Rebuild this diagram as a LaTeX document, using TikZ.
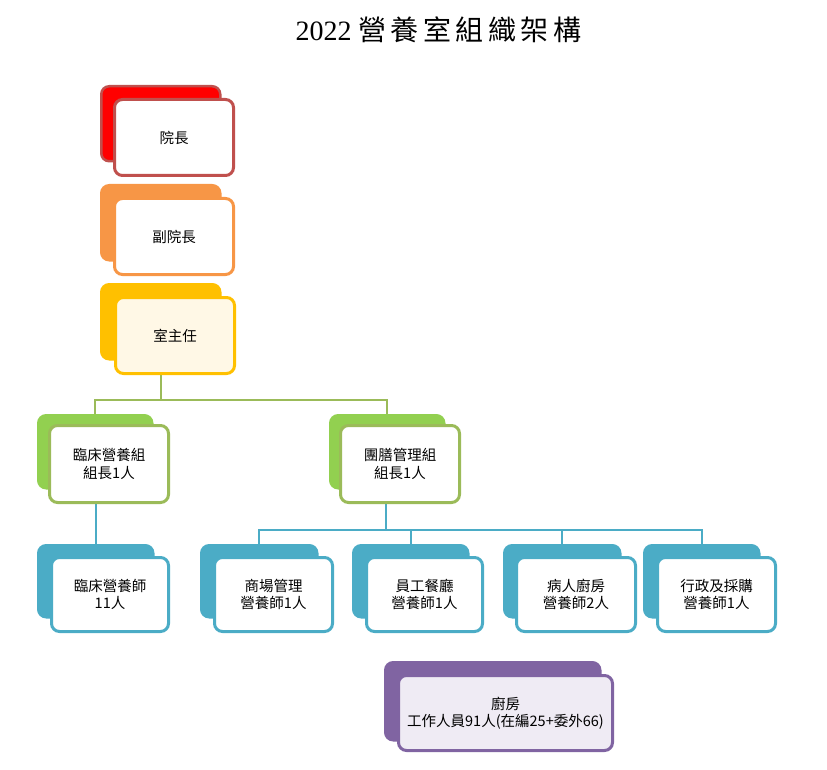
\documentclass[tikz,border=0pt]{standalone}
\usepackage{fontspec}
\setmainfont{Liberation Serif}
\newfontfamily\cjk{Noto Sans CJK TC}
\newfontfamily\cjktitle[LetterSpace=16]{Noto Sans CJK TC}
\usetikzlibrary{backgrounds}
\definecolor{redA}{HTML}{FF0000}
\definecolor{redB}{HTML}{C0504D}
\definecolor{orgA}{HTML}{F79646}
\definecolor{yelA}{HTML}{FFC000}
\definecolor{yelF}{HTML}{FFF8E6}
\definecolor{grnA}{HTML}{92D050}
\definecolor{grnB}{HTML}{9BBB59}
\definecolor{bluA}{HTML}{4BACC6}
\definecolor{purA}{HTML}{8064A2}
\definecolor{purF}{HTML}{EFEBF4}
\begin{document}
\begin{tikzpicture}[x=1pt,y=-1pt,
  backbox/.style n args={2}{draw=#1, fill=#2, line width=2.5pt, rounded corners=8pt, anchor=north west, inner sep=0pt},
  frontbox/.style n args={2}{draw=#1, fill=#2, line width=3pt, rounded corners=8pt, anchor=north west, inner sep=0pt, align=center, font=\cjk\fontsize{14.5}{17.5}\selectfont},
  grnline/.style={draw=grnB, line width=1.8pt},
  bluline/.style={draw=bluA, line width=1.8pt}]
\path[use as bounding box] (0,0) rectangle (827,770);
\node[font=\fontsize{28}{32}\selectfont, anchor=west] (title) at (292,30) {2022 {\cjktitle 營養室組織架構}};
% level 1
\node[backbox={redB}{redA}, minimum width=119pt, minimum height=75pt] (b1) at (100,85) {};
\node[frontbox={redB}{white}, minimum width=119pt, minimum height=76pt] (n1) at (113,98) {院長};
\node[backbox={orgA}{orgA}, minimum width=119pt, minimum height=75pt] (b2) at (100,184) {};
\node[frontbox={orgA}{white}, minimum width=119pt, minimum height=76pt] (n2) at (113,197) {副院長};
\node[backbox={yelA}{yelA}, minimum width=119pt, minimum height=75pt] (b3) at (100,283) {};
\node[frontbox={yelA}{yelF}, minimum width=119pt, minimum height=76pt] (n3) at (114,296) {室主任};
% groups
\node[backbox={grnA}{grnA}, minimum width=114pt, minimum height=73pt] (b4) at (37,414) {};
\node[frontbox={grnB}{white}, minimum width=119pt, minimum height=77pt] (n4) at (48,424) {臨床營養組\\組長1人};
\node[backbox={grnA}{grnA}, minimum width=114pt, minimum height=73pt] (b5) at (329,414) {};
\node[frontbox={grnB}{white}, minimum width=119pt, minimum height=77pt] (n5) at (339,424) {團膳管理組\\組長1人};
% blue row
\node[backbox={bluA}{bluA}, minimum width=115pt, minimum height=72pt] (b6) at (37,544) {};
\node[frontbox={bluA}{white}, minimum width=117pt, minimum height=74pt] (n6) at (50,556) {臨床營養師\\11人};
\node[backbox={bluA}{bluA}, minimum width=116pt, minimum height=72pt] (b7) at (200,544) {};
\node[frontbox={bluA}{white}, minimum width=118pt, minimum height=74pt] (n7) at (213,556) {商場管理\\營養師1人};
\node[backbox={bluA}{bluA}, minimum width=115pt, minimum height=72pt] (b8) at (352,544) {};
\node[frontbox={bluA}{white}, minimum width=116pt, minimum height=74pt] (n8) at (365,556) {員工餐廳\\營養師1人};
\node[backbox={bluA}{bluA}, minimum width=116pt, minimum height=72pt] (b9) at (503,544) {};
\node[frontbox={bluA}{white}, minimum width=119pt, minimum height=74pt] (n9) at (515,556) {病人廚房\\營養師2人};
\node[backbox={bluA}{bluA}, minimum width=115pt, minimum height=72pt] (b10) at (643,544) {};
\node[frontbox={bluA}{white}, minimum width=118pt, minimum height=74pt] (n10) at (656,556) {行政及採購\\營養師1人};
% purple
\node[backbox={purA}{purA}, minimum width=215pt, minimum height=78pt] (b11) at (384,661) {};
\node[frontbox={purA}{purF}, minimum width=214pt, minimum height=75pt] (n11) at (397,674) {廚房\\工作人員91人(在編25+委外66)};
% connectors
\coordinate (j1) at (161,400);
\coordinate (j2) at (386,530);
\begin{pgfonlayer}{background}
\draw[grnline] (n3.south -| j1) -- (j1);
\draw[grnline] (j1) -| (b4.north);
\draw[grnline] (j1) -| (b5.north);
\draw[bluline] (b6.north) -- (b6.north |- n4.south);
\draw[bluline] (n5.south -| j2) -- (j2);
\draw[bluline] (j2) -| (b7.north);
\draw[bluline] (j2) -| (b8.north);
\draw[bluline] (j2) -| (b9.north);
\draw[bluline] (j2) -| (b10.north);
\end{pgfonlayer}
\end{tikzpicture}
\end{document}
